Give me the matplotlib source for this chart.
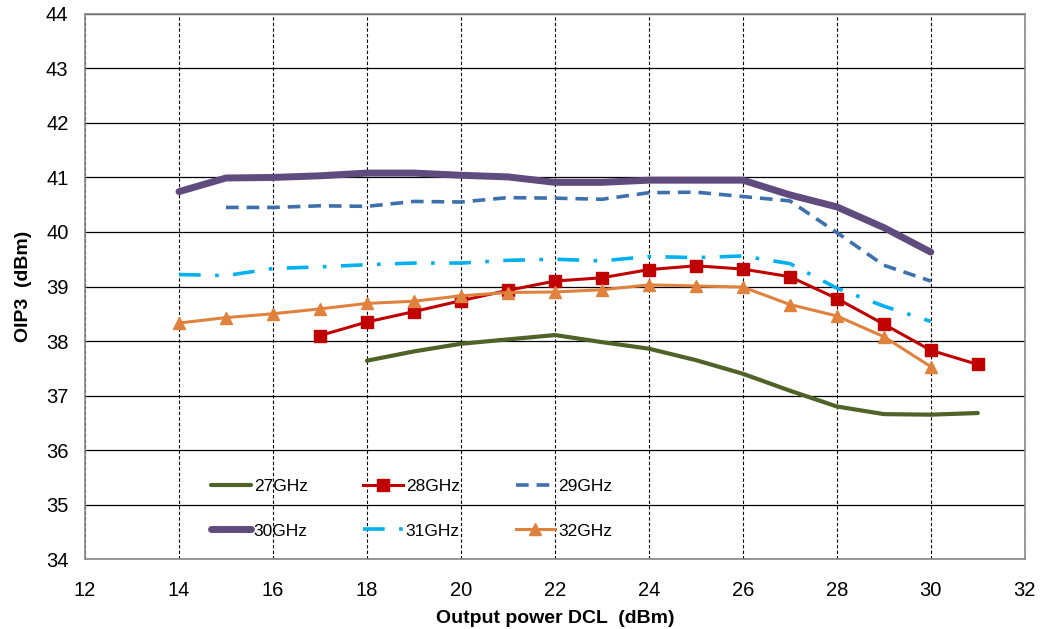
import matplotlib
matplotlib.use("Agg")
import matplotlib.pyplot as plt

plt.rcParams['font.family'] = ['Liberation Sans', 'DejaVu Sans']

# output power (dBm) and OIP3 (dBm) per frequency
x_27 = [18, 19, 20, 21, 22, 23, 24, 25, 26, 27, 28, 29, 30, 31]
y_27 = [37.64, 37.81, 37.95, 38.03, 38.11, 37.98, 37.86, 37.65, 37.40, 37.09, 36.80, 36.66, 36.65, 36.68]

x_28 = [17, 18, 19, 20, 21, 22, 23, 24, 25, 26, 27, 28, 29, 30, 31]
y_28 = [38.10, 38.35, 38.54, 38.74, 38.93, 39.10, 39.16, 39.31, 39.38, 39.32, 39.18, 38.78, 38.31, 37.83, 37.57]

x_29 = [15, 16, 17, 18, 19, 20, 21, 22, 23, 24, 25, 26, 27, 28, 29, 30]
y_29 = [40.45, 40.45, 40.48, 40.47, 40.56, 40.55, 40.63, 40.62, 40.60, 40.72, 40.73, 40.65, 40.57, 39.99, 39.39, 39.10]

x_30 = [14, 15, 16, 17, 18, 19, 20, 21, 22, 23, 24, 25, 26, 27, 28, 29, 30]
y_30 = [40.74, 40.99, 41.00, 41.03, 41.08, 41.08, 41.04, 41.01, 40.91, 40.91, 40.95, 40.95, 40.95, 40.68, 40.46, 40.08, 39.63]

x_31 = [14, 15, 16, 17, 18, 19, 20, 21, 22, 23, 24, 25, 26, 27, 28, 29, 30]
y_31 = [39.22, 39.20, 39.33, 39.36, 39.40, 39.43, 39.43, 39.48, 39.50, 39.47, 39.55, 39.53, 39.56, 39.42, 38.97, 38.64, 38.36]

x_32 = [14, 15, 16, 17, 18, 19, 20, 21, 22, 23, 24, 25, 26, 27, 28, 29, 30]
y_32 = [38.33, 38.43, 38.50, 38.59, 38.69, 38.73, 38.83, 38.89, 38.90, 38.94, 39.03, 39.01, 38.99, 38.67, 38.46, 38.08, 37.53]

fig, ax = plt.subplots(figsize=(10.5, 6.29), dpi=100)
fig.subplots_adjust(left=0.081, right=0.976, top=0.978, bottom=0.111)

ax.set_xlim(12, 32)
ax.set_ylim(34, 44)
ax.set_xticks(range(12, 33, 2))
ax.set_yticks(range(34, 45, 1))

# grid: solid horizontal, dashed vertical
ax.grid(True, axis='y', color='black', linestyle='-', linewidth=0.9)
ax.grid(True, axis='x', color='black', linestyle=(0, (3, 2)), linewidth=0.8)
ax.set_axisbelow(True)
for s in ax.spines.values():
    s.set_color('#888888')
    s.set_linewidth(1.2)

l27, = ax.plot(x_27, y_27, color='#4F6228', linewidth=3, solid_capstyle='round', label='27GHz')
l28, = ax.plot(x_28, y_28, color='#C00000', linewidth=2.2, marker='s', markersize=8, label='28GHz')
l29, = ax.plot(x_29, y_29, color='#3F70AE', linewidth=2.6, linestyle=(0, (3.5, 2.2)), label='29GHz')
l30, = ax.plot(x_30, y_30, color='#5F4B7D', linewidth=5, solid_capstyle='round', label='30GHz')
l31, = ax.plot(x_31, y_31, color='#00B0F0', linewidth=2.6, linestyle=(0, (6, 4, 1, 4)), label='31GHz')
l32, = ax.plot(x_32, y_32, color='#E0823D', linewidth=2.2, marker='^', markersize=9, label='32GHz')

# legend filled row by row
handles = [l27, l30, l28, l31, l29, l32]
ax.legend(handles=handles, labels=[h.get_label() for h in handles], ncol=3,
          loc='lower left', bbox_to_anchor=(0.125, 0.022), frameon=False,
          fontsize=12.5, handlelength=2.3, handletextpad=0.15, columnspacing=3.2,
          labelspacing=1.7, borderpad=0)

ax.tick_params(axis='both', length=0, labelsize=14.5)
ax.tick_params(axis='y', pad=12)
ax.tick_params(axis='x', pad=16)
ax.set_xlabel('Output power DCL  (dBm)', fontsize=14, fontweight='bold', labelpad=7)
ax.set_ylabel('OIP3  (dBm)', fontsize=14, fontweight='bold', labelpad=10)

fig.savefig('out.png', dpi=100)
